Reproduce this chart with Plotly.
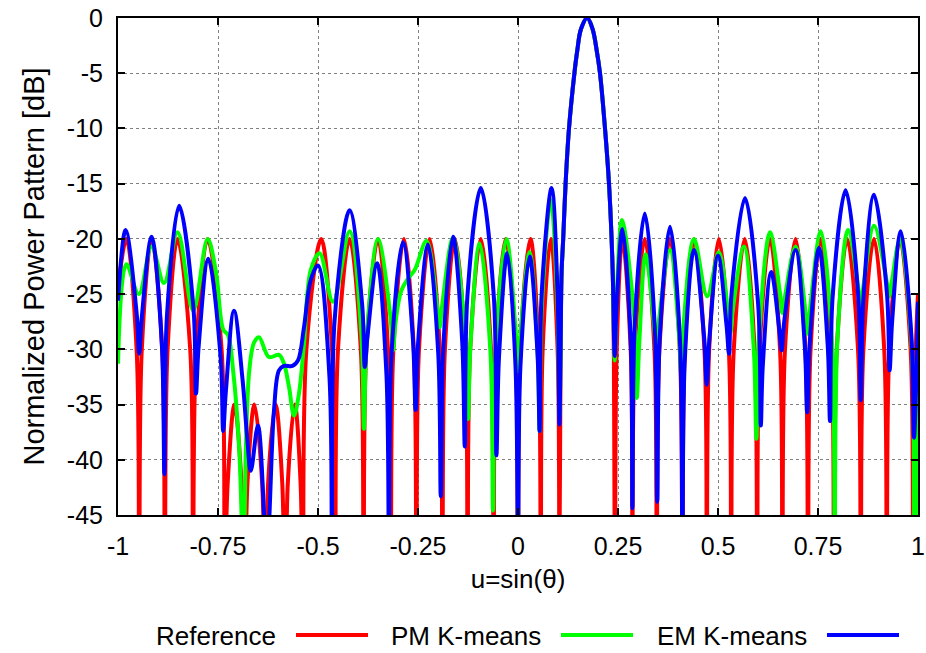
import plotly.graph_objects as go

# ---------------- data ----------------
series_names = ["Reference", "PM K-means", "EM K-means"]
series_colors = ["#ff0000", "#00ff00", "#0000ff"]

x_tick_vals = [-1, -0.75, -0.5, -0.25, 0, 0.25, 0.5, 0.75, 1]
x_tick_text = ["-1", "-0.75", "-0.5", "-0.25", "0", "0.25", "0.5", "0.75", "1"]
y_tick_vals = [0, -5, -10, -15, -20, -25, -30, -35, -40, -45]
y_tick_text = ["0", "-5", "-10", "-15", "-20", "-25", "-30", "-35", "-40", "-45"]

# main beam (shared by the three patterns)
main_lobe = [(0.1065, -30), (0.109, -23), (0.113, -20), (0.119, -15), (0.1275, -10),
             (0.141, -5), (0.148, -3), (0.1575, -1), (0.173, 0), (0.1865, -1),
             (0.197, -3), (0.205, -5), (0.2175, -10), (0.2275, -15), (0.234, -20),
             (0.2375, -24)]

# Reference (u, dB); values below -45 dB are deep nulls that fall off the axis
ref_left = [(-1.0, -24.5), (-0.979, -20), (-0.9535, -30), (-0.947, -50),
            (-0.9405, -30), (-0.916, -20), (-0.8895, -30), (-0.883, -50),
            (-0.876, -30), (-0.851, -20), (-0.8195, -30), (-0.8125, -50),
            (-0.8045, -30), (-0.776, -20), (-0.741, -30), (-0.733, -50),
            (-0.7256, -42), (-0.709, -35), (-0.6914, -42), (-0.684, -55),
            (-0.6762, -42), (-0.659, -35), (-0.6398, -42), (-0.632, -55),
            (-0.6245, -42), (-0.606, -35), (-0.5895, -42), (-0.582, -55),
            (-0.5753, -42), (-0.558, -35), (-0.5437, -42), (-0.537, -55),
            (-0.529, -30), (-0.492, -20), (-0.465, -30), (-0.457, -50),
            (-0.450, -30), (-0.421, -20), (-0.393, -30), (-0.386, -50),
            (-0.379, -30), (-0.35, -20), (-0.325, -30), (-0.318, -50),
            (-0.3115, -30), (-0.285, -20), (-0.2605, -30), (-0.254, -50),
            (-0.2475, -30), (-0.221, -20), (-0.1955, -30), (-0.189, -50),
            (-0.1827, -30), (-0.158, -20), (-0.1323, -30), (-0.126, -50),
            (-0.1195, -30), (-0.093, -20), (-0.0675, -30), (-0.061, -50),
            (-0.055, -30), (-0.031, -20), (-0.006, -30), (0.0, -50),
            (0.0057, -30), (0.031, -20), (0.0513, -30), (0.057, -50),
            (0.0617, -30), (0.082, -20), (0.099, -30), (0.1035, -50)]
ref_right = [(0.2395, -30), (0.2425, -50),
             (0.2468, -30), (0.261, -20), (0.2817, -30), (0.286, -50),
             (0.292, -30), (0.317, -20), (0.341, -30), (0.347, -50),
             (0.3535, -30), (0.38, -20), (0.4045, -30), (0.411, -50),
             (0.417, -30), (0.44, -20), (0.466, -30), (0.472, -50),
             (0.478, -30), (0.502, -20), (0.527, -30), (0.533, -50),
             (0.5395, -30), (0.567, -20), (0.5915, -30), (0.598, -50),
             (0.604, -30), (0.63, -20), (0.655, -30), (0.661, -50),
             (0.6675, -30), (0.694, -20), (0.7185, -30), (0.725, -50),
             (0.7315, -30), (0.757, -20), (0.7835, -30), (0.79, -50),
             (0.797, -30), (0.823, -20), (0.850, -30), (0.857, -50),
             (0.8635, -30), (0.89, -20), (0.9155, -30), (0.922, -50),
             (0.9285, -30), (0.955, -20), (0.9815, -30), (0.988, -50),
             (0.9945, -30), (1.0, -25)]

# PM K-means
pm_left = [(-1.0, -31.3), (-0.979, -22.3), (-0.948, -25), (-0.916, -20.7),
           (-0.885, -24), (-0.851, -19.4), (-0.812, -26.5), (-0.776, -20),
           (-0.755, -23), (-0.737, -28.2), (-0.725, -28.7), (-0.712, -32),
           (-0.697, -39), (-0.686, -50), (-0.681, -40), (-0.672, -32),
           (-0.66, -29.4), (-0.6475, -28.9), (-0.6225, -30.7), (-0.5975, -30.5),
           (-0.585, -31.3), (-0.5725, -33.4), (-0.56, -36), (-0.5475, -34),
           (-0.535, -29.5), (-0.518, -22.8), (-0.496, -21.3), (-0.4625, -25.7),
           (-0.421, -19.3), (-0.3915, -28.7), (-0.385, -37.2), (-0.3785, -29.3),
           (-0.35, -20), (-0.319, -27), (-0.3125, -30.1), (-0.306, -27.5),
           (-0.292, -24.7), (-0.275, -23.6), (-0.258, -22.8), (-0.229, -20.2),
           (-0.2025, -26), (-0.196, -28), (-0.1895, -26), (-0.1625, -19.9),
           (-0.1315, -29), (-0.125, -36.3), (-0.1185, -29.4), (-0.096, -20.4),
           (-0.069, -30.2), (-0.0625, -44.6), (-0.056, -30), (-0.029, -20),
           (-0.0065, -28), (0.0, -32), (0.0065, -28.5), (0.029, -21.2),
           (0.049, -30.2), (0.054, -37.4), (0.059, -26.5), (0.082, -16.5),
           (0.099, -26.5), (0.1035, -36)]
pm_right = [(0.2417, -31), (0.2457, -26.4), (0.26, -18.3), (0.291, -27.3),
            (0.297, -34.4), (0.303, -29.6), (0.319, -21.4), (0.3405, -28),
            (0.346, -30.5), (0.3515, -27.7), (0.38, -21), (0.4025, -28.6),
            (0.408, -32.3), (0.4135, -28), (0.44, -20), (0.473, -25.2),
            (0.502, -21.2), (0.525, -26.6), (0.531, -28.5), (0.537, -26.4),
            (0.565, -20.7), (0.5895, -30), (0.596, -38.1), (0.6025, -28.9),
            (0.63, -19.4), (0.6545, -24.8), (0.661, -26.7), (0.6675, -25.2),
            (0.694, -20.7), (0.7185, -26.5), (0.725, -28.6), (0.7315, -25.9),
            (0.757, -19.3), (0.785, -29.3), (0.7917, -50), (0.7985, -29.2),
            (0.825, -19.2), (0.8505, -24.4), (0.857, -26.2), (0.8635, -24.3),
            (0.89, -18.8), (0.921, -23.7), (0.9275, -25.2), (0.934, -24),
            (0.955, -20), (0.9845, -30), (0.991, -50), (1.0, -31.6)]

# EM K-means
em_left = [(-1.0, -25.6), (-0.981, -19.2), (-0.9535, -26.7), (-0.947, -30.4),
           (-0.9405, -27.1), (-0.916, -19.8), (-0.8905, -29.5), (-0.884, -41.3),
           (-0.8775, -26.9), (-0.847, -17), (-0.8115, -26.2), (-0.805, -34),
           (-0.7985, -29.8), (-0.774, -21.8), (-0.7435, -30.7), (-0.737, -37.4),
           (-0.7305, -33.9), (-0.71, -26.5), (-0.689, -32.6), (-0.677, -38),
           (-0.668, -41), (-0.65, -36.9), (-0.628, -48), (-0.61, -35.5),
           (-0.5975, -31.9), (-0.585, -31.5), (-0.564, -31.5), (-0.55, -31),
           (-0.535, -28), (-0.518, -23.7), (-0.5, -22.4), (-0.4715, -32.4),
           (-0.465, -48), (-0.4585, -27.4), (-0.421, -17.4), (-0.3895, -26),
           (-0.383, -31.6), (-0.3765, -28.9), (-0.352, -22.2), (-0.329, -32.2),
           (-0.3225, -48), (-0.316, -30.3), (-0.2875, -20.3), (-0.2625, -29.2),
           (-0.256, -35.5), (-0.2495, -29.3), (-0.225, -20.5), (-0.1995, -30.3),
           (-0.193, -43.3), (-0.1865, -29.7), (-0.1625, -19.8), (-0.1395, -29.3),
           (-0.133, -38.8), (-0.1265, -25.2), (-0.093, -15.4), (-0.0605, -25.2),
           (-0.054, -39.6), (-0.0475, -30.7), (-0.027, -21.3), (-0.0065, -31.3),
           (0.0, -48), (0.006, -31.6), (0.029, -21.6), (0.049, -30.6),
           (0.054, -37.4), (0.059, -25.1), (0.084, -15.4), (0.099, -25.1),
           (0.1035, -36.8)]
em_right = [(0.2417, -30.6), (0.2457, -26.8), (0.261, -19.1), (0.2817, -29.1),
            (0.286, -44.4), (0.292, -27.7), (0.317, -17.7), (0.3415, -27.7),
            (0.348, -43.8), (0.3545, -28.9), (0.38, -18.9), (0.4045, -28.9),
            (0.411, -48), (0.417, -31), (0.44, -21), (0.4655, -29),
            (0.4717, -33.2), (0.478, -29.3), (0.5, -21.5), (0.5215, -27.9),
            (0.5275, -30.4), (0.534, -24.9), (0.5675, -16.3), (0.6005, -26),
            (0.607, -36.9), (0.612, -31.5), (0.633, -23), (0.6535, -28.3),
            (0.659, -30.1), (0.6655, -27.5), (0.694, -21), (0.717, -29.7),
            (0.723, -35.7), (0.729, -29.6), (0.7525, -20.8), (0.7745, -29.8),
            (0.78, -36.5), (0.7865, -25.3), (0.819, -15.6), (0.8505, -25.1),
            (0.857, -34.6), (0.8635, -25.4), (0.89, -16), (0.9225, -25),
            (0.929, -31.9), (0.9355, -27.4), (0.957, -19.3), (0.9835, -28.8),
            (0.99, -38), (1.0, -25.7)]

series_points = [ref_left + main_lobe + ref_right,
                 pm_left + main_lobe + pm_right,
                 em_left + main_lobe + em_right]

# ---------------- figure ----------------
W, H = 926, 653
L, R, T, B = 118, 8, 18, 138
PW, PH = W - L - R, H - T - B


def px_x(px):
    return (px - L) / PW


def px_y(py):
    return (H - B - py) / PH


fig = go.Figure()
for name, color, pts in zip(series_names, series_colors, series_points):
    fig.add_trace(go.Scatter(
        x=[p[0] for p in pts], y=[p[1] for p in pts], name=name,
        mode="lines", line=dict(color=color, width=4, shape="spline", smoothing=1.0),
        showlegend=False, hoverinfo="skip"))

font_family = "Liberation Sans, Arial, Helvetica, sans-serif"
axis_common = dict(
    showline=True, linecolor="black", linewidth=2, mirror="ticks",
    ticks="inside", ticklen=7, tickwidth=1.5, tickcolor="black",
    showgrid=True, gridcolor="#808080", griddash="dot", gridwidth=1,
    zeroline=False, tickfont=dict(family=font_family, size=25, color="black"),
)

fig.update_xaxes(range=[-1, 1], tickvals=x_tick_vals, ticktext=x_tick_text,
                 title=dict(text="u=sin(θ)", standoff=11,
                            font=dict(family=font_family, size=26, color="black")),
                 ticklabelstandoff=8, **axis_common)
fig.update_yaxes(range=[-45, 0], tickvals=y_tick_vals, ticktext=y_tick_text,
                 title=dict(text="Normalized Power Pattern [dB]", standoff=14,
                            font=dict(family=font_family, size=29, color="black")),
                 ticklabelstandoff=8, **axis_common)

# gnuplot-style legend below the plot: label followed by a line sample
legend_text_right_px = [278, 543, 809]
legend_y_px = 636
for name, color, xr in zip(series_names, series_colors, legend_text_right_px):
    fig.add_annotation(x=px_x(xr), y=px_y(legend_y_px), xref="paper", yref="paper",
                       text=name, showarrow=False, xanchor="right", yanchor="middle",
                       font=dict(family=font_family, size=26, color="black"))
    fig.add_shape(type="line", xref="paper", yref="paper",
                  x0=px_x(xr + 18), x1=px_x(xr + 90),
                  y0=px_y(legend_y_px - 1), y1=px_y(legend_y_px - 1),
                  line=dict(color=color, width=4))

fig.update_layout(width=W, height=H, margin=dict(l=L, r=R, t=T, b=B, autoexpand=False),
                  plot_bgcolor="white", paper_bgcolor="white",
                  font=dict(family=font_family, size=25, color="black"))

fig.write_html("out.html")
